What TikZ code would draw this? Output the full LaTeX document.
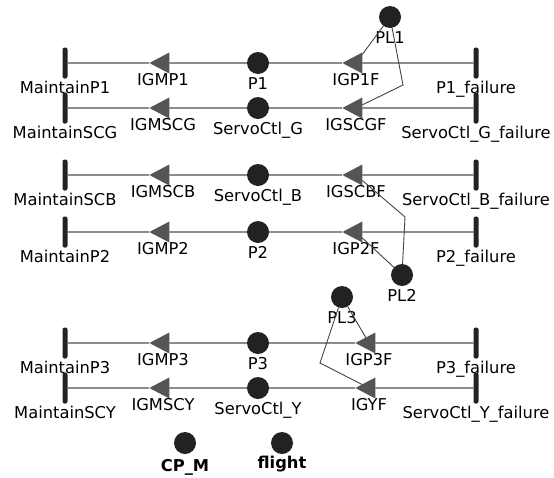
\documentclass[tikz,border=0pt]{standalone}
\usepackage{fontspec}
\setmainfont{DejaVu Sans}
\usetikzlibrary{shapes.geometric}
\definecolor{placefill}{HTML}{222222}
\definecolor{transfill}{HTML}{555555}
\definecolor{arcgray}{HTML}{8C8C8C}
\definecolor{linkgray}{HTML}{444444}
\tikzset{
  place/.style={circle,fill=placefill,minimum size=22pt,inner sep=0pt,outer sep=0pt},
  trans/.style={isosceles triangle,isosceles triangle stretches,shape border rotate=180,
    fill=transfill,minimum width=21pt,minimum height=20pt,inner sep=0pt,outer sep=0pt},
  bar/.style={rectangle,rounded corners=2pt,fill=placefill,minimum width=5pt,
    minimum height=31pt,inner sep=0pt,outer sep=0pt},
  every label/.style={font=\fontsize{16.3}{19}\selectfont,text height=12pt,text depth=3.5pt,inner sep=0pt},
  arc/.style={draw=arcgray,line width=2.2pt},
  link/.style={draw=linkgray,line width=0.9pt}
}
\begin{document}
\begin{tikzpicture}[x=1pt,y=-1pt]
    \useasboundingbox (0,0) rectangle (554,477);
        % P1
        \node[bar,label={[label distance=3pt]below:MaintainP1}] at (65,63) (mp1) {};
        \node[trans,label={[label distance=3pt]below:IGMP1}] at (163,63) (igmp1) {};
        \node[place,label={[label distance=3pt]below:P1}] at (258,63) (p1) {};
        \node[trans,label={[label distance=3pt]below:IGP1F}] at (356,63) (igp1f) {};
        \node[bar,label={[label distance=3pt]below:P1\_failure}] at (476,63) (p1f) {};
        % ServoCtl_G
        \node[bar,label={[label distance=3pt]below:MaintainSCG}] at (65,108) (mscg) {};
        \node[trans,label={[label distance=3pt]below:IGMSCG}] at (163,108) (igmscg) {};
        \node[place,label={[label distance=3pt]below:ServoCtl\_G}] at (258,108) (scg) {};
        \node[trans,label={[label distance=3pt]below:IGSCGF}] at (356,108) (igscgf) {};
        \node[bar,label={[label distance=3pt]below:ServoCtl\_G\_failure}] at (476,108) (scgf) {};
        % ServoCtl_B
        \node[bar,label={[label distance=3pt]below:MaintainSCB}] at (65,175) (mscb) {};
        \node[trans,label={[label distance=3pt]below:IGMSCB}] at (163,175) (igmscb) {};
        \node[place,label={[label distance=3pt]below:ServoCtl\_B}] at (258,175) (scb) {};
        \node[trans,label={[label distance=3pt]below:IGSCBF}] at (356,175) (igscbf) {};
        \node[bar,label={[label distance=3pt]below:ServoCtl\_B\_failure}] at (476,175) (scbf) {};
        % P2
        \node[bar,label={[label distance=3pt]below:MaintainP2}] at (65,232) (mp2) {};
        \node[trans,label={[label distance=3pt]below:IGMP2}] at (163,232) (igmp2) {};
        \node[place,label={[label distance=3pt]below:P2}] at (258,232) (p2) {};
        \node[trans,label={[label distance=3pt]below:IGP2F}] at (356,232) (igp2f) {};
        \node[bar,label={[label distance=3pt]below:P2\_failure}] at (476,232) (p2f) {};
        % P3
        \node[bar,label={[label distance=3pt]below:MaintainP3}] at (65,343) (mp3) {};
        \node[trans,label={[label distance=3pt]below:IGMP3}] at (163,343) (igmp3) {};
        \node[place,label={[label distance=3pt]below:P3}] at (258,343) (p3) {};
        \node[trans,label={[label distance=3pt]below:IGP3F}] at (369,343) (igp3f) {};
        \node[bar,label={[label distance=3pt]below:P3\_failure}] at (476,343) (p3f) {};
        % ServoCtl_Y
        \node[bar,label={[label distance=3pt]below:MaintainSCY}] at (65,388) (mscy) {};
        \node[trans,label={[label distance=3pt]below:IGMSCY}] at (163,388) (igmscy) {};
        \node[place,label={[label distance=3pt]below:ServoCtl\_Y}] at (258,388) (scy) {};
        \node[trans,label={[label distance=3pt]below:IGYF}] at (369,388) (igyf) {};
        \node[bar,label={[label distance=3pt]below:ServoCtl\_Y\_failure}] at (476,388) (scyf) {};
        % PL places
        \node[place,label={[label distance=3pt]below:PL1}] at (390,17) (pl1) {};
        \node[place,label={[label distance=3pt]below:PL2}] at (402,275) (pl2) {};
        \node[place,label={[label distance=3pt]below:PL3}] at (342,297) (pl3) {};
        \node[place,label={[label distance=5pt,font=\fontsize{16.3}{19}\selectfont\bfseries]below:CP\_M}] at (185,443) (cpm) {};
        \node[place,label={[label distance=2pt,font=\fontsize{16.3}{19}\selectfont\bfseries]below:flight}] at (282,443) (flight) {};
        \coordinate (b1) at (403,85);
        \coordinate (b2) at (405,217);
        \coordinate (b3) at (320,363);
        \draw[arc] (p1f) -- (igp1f) -- (p1) -- (igmp1) -- (mp1);
        \draw[arc] (scgf) -- (igscgf) -- (scg) -- (igmscg) -- (mscg);
        \draw[arc] (scbf) -- (igscbf) -- (scb) -- (igmscb) -- (mscb);
        \draw[arc] (p2f) -- (igp2f) -- (p2) -- (igmp2) -- (mp2);
        \draw[arc] (p3f) -- (igp3f) -- (p3) -- (igmp3) -- (mp3);
        \draw[arc] (scyf) -- (igyf) -- (scy) -- (igmscy) -- (mscy);
        \draw[link] (pl1) -- (igp1f);
        \draw[link] (pl1) -- (b1) -- (igscgf);
        \draw[link] (igscbf) -- (b2) -- (pl2);
        \draw[link] (igp2f) -- (pl2);
        \draw[link] (pl3) -- (igp3f);
        \draw[link] (pl3) -- (b3) -- (igyf);
    \end{tikzpicture}
\end{document}
